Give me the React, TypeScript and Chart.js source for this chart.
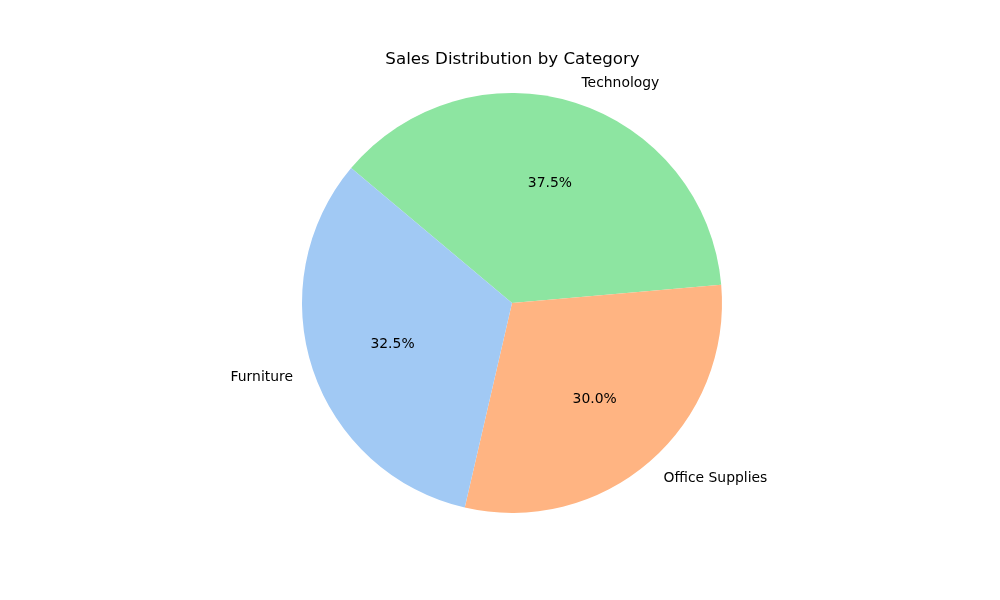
import React, { useEffect, useRef } from "react";
import { Chart, registerables } from "chart.js";

Chart.register(...registerables);

// Drawing order (clockwise in Chart.js) — equivalent to matplotlib's CCW Furniture, Office Supplies, Technology
const categories = ["Technology", "Office Supplies", "Furniture"];
const shares = [37.5, 30.0, 32.5];
const colors = ["#8de5a1", "#ffb482", "#a1c9f4"];
const titleText = "Sales Distribution by Category";

const FONT = "'DejaVu Sans', sans-serif";

const labelPlugin = {
  id: "pieLabels",
  afterDatasetsDraw(chart: any) {
    const ctx = chart.ctx;
    const meta = chart.getDatasetMeta(0);
    ctx.save();
    ctx.fillStyle = "#000000";
    const dy = 1;
    meta.data.forEach((arc: any, i: number) => {
      const mid = (arc.startAngle + arc.endAngle) / 2;
      const r = arc.outerRadius;
      const cx = arc.x;
      const cy = arc.y;
      // category label at 1.1 r
      const lx = cx + Math.cos(mid) * r * 1.1;
      const ly = cy + Math.sin(mid) * r * 1.1;
      ctx.font = `13.9px ${FONT}`;
      ctx.textBaseline = "middle";
      ctx.textAlign = Math.cos(mid) >= 0 ? "left" : "right";
      ctx.fillText(categories[i], lx, ly + dy);
      // percentage at 0.6 r
      const px = cx + Math.cos(mid) * r * 0.6;
      const py = cy + Math.sin(mid) * r * 0.6;
      ctx.textAlign = "center";
      ctx.fillText(shares[i].toFixed(1) + "%", px, py + dy);
    });
    // title
    ctx.font = `16.7px ${FONT}`;
    ctx.textAlign = "center";
    ctx.textBaseline = "middle";
    const ca = chart.chartArea;
    ctx.fillText(titleText, (ca.left + ca.right) / 2 + 0.5, 59 + dy);
    ctx.restore();
  },
};

export default function App() {
  const ref = useRef<HTMLCanvasElement | null>(null);
  useEffect(() => {
    document.body.style.margin = "0";
    if (!ref.current) return;
    const chart = new Chart(ref.current, {
      type: "pie",
      data: {
        labels: categories,
        datasets: [
          {
            data: shares,
            backgroundColor: colors,
            borderWidth: 0,
          },
        ],
      },
      options: {
        responsive: false,
        animation: false,
        rotation: -50,
        layout: { padding: { left: 302, right: 278, top: 93, bottom: 87 } },
        plugins: {
          legend: { display: false },
          tooltip: { enabled: false },
          title: { display: false },
        },
      },
      plugins: [labelPlugin],
    });
    return () => chart.destroy();
  }, []);
  return (
    <div style={{ position: "absolute", left: 0, top: 0, width: 1000, height: 600, background: "#fff" }}>
      <canvas ref={ref} width={1000} height={600} style={{ width: 1000, height: 600 }} />
    </div>
  );
}
